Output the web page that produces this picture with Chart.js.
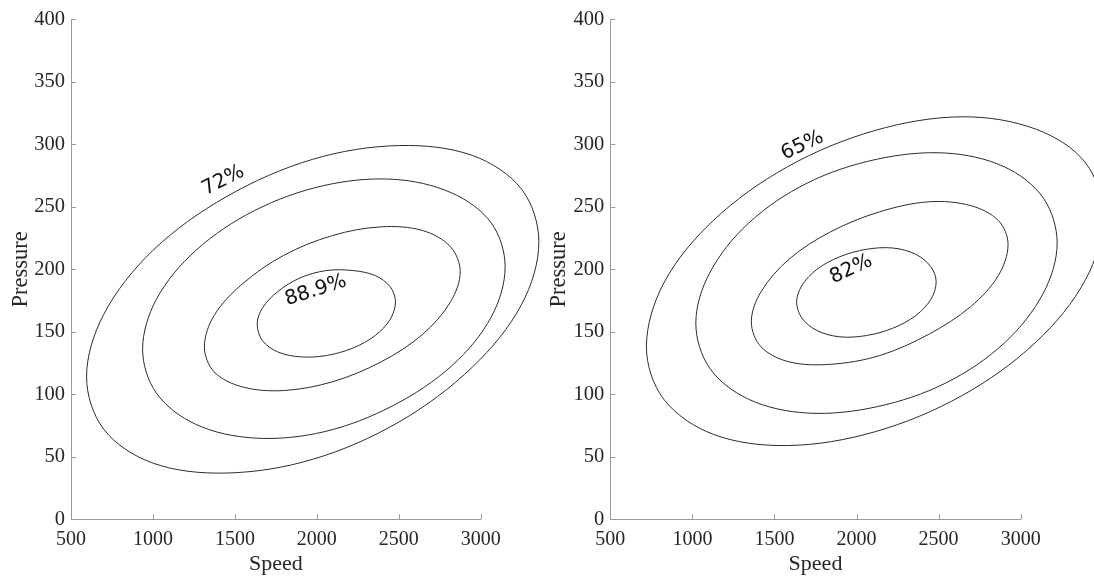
<!DOCTYPE html>
<html><head><meta charset="utf-8">
<script src="https://cdn.jsdelivr.net/npm/chart.js@4.4.1/dist/chart.umd.min.js"></script>
<style>
html,body{margin:0;padding:0;background:#fff;width:1094px;height:578px;overflow:hidden}
#c1{position:absolute;left:0;top:0;width:547px;height:578px}
#c2{position:absolute;left:539px;top:0;width:555px;height:578px}
</style></head><body>
<canvas id="c1" width="547" height="578"></canvas>
<canvas id="c2" width="555" height="578"></canvas>
<script>
// ---- Data: contour points [speed, pressure] ----
const xTicks = [500, 1000, 1500, 2000, 2500, 3000];
const yTicks = [0, 50, 100, 150, 200, 250, 300, 350, 400];

// Left chart contours (outer 72% ... inner 88.9%)
const left72 = [[3355,222],[3250,264],[2951,291],[2503,299],[1975,288],[1447,258],[999,215],[700,164],[595,114],[700,72],[999,45],[1447,37],[1975,48],[2503,78],[2951,122],[3250,172]];
const leftC2 = [[3149,202],[3065,237],[2825,261],[2466,272],[2043,267],[1620,247],[1261,215],[1021,176],[937,136],[1021,101],[1261,76],[1620,65],[2043,70],[2466,91],[2825,123],[3065,162]];
const leftC3 = [[2875,198],[2816,218],[2646,231],[2393,234],[2095,227],[1796,211],[1543,188],[1373,163],[1314,138],[1373,118],[1543,106],[1796,103],[2095,110],[2393,126],[2646,148],[2816,174]];
const left889 = [[2480,174],[2448,186],[2356,195],[2220,199],[2058,199],[1896,193],[1760,182],[1668,169],[1636,156],[1668,143],[1760,134],[1896,130],[2058,131],[2220,137],[2356,147],[2448,160]];

// Right chart contours (outer 65% ... inner 82%)
const right65 = [[3502,242],[3396,285],[3095,312],[2643,322],[2111,311],[1579,282],[1127,239],[826,189],[720,138],[826,96],[1127,68],[1579,59],[2111,70],[2643,99],[3095,142],[3396,192]];
const rightC2 = [[3222,221],[3138,257],[2900,282],[2543,293],[2122,288],[1700,269],[1343,237],[1105,197],[1021,157],[1105,121],[1343,96],[1700,85],[2122,90],[2543,109],[2900,141],[3138,181]];
const rightC3 = [[2923,220],[2864,239],[2694,251],[2440,254],[2141,246],[1842,230],[1588,208],[1418,182],[1359,158],[1418,138],[1588,126],[1842,124],[2141,131],[2440,148],[2694,170],[2864,195]];
const right82 = [[2485,190],[2453,202],[2361,212],[2223,217],[2060,216],[1897,210],[1759,200],[1667,187],[1635,174],[1667,161],[1759,151],[1897,146],[2060,147],[2223,153],[2361,163],[2453,176]];

// Contour level labels: text, speed, pressure, angle (deg)
const leftLabelText = ['72%', '88.9%'];
const leftLabelSpeed = [1429, 1994];
const leftLabelPress = [271, 183];
const leftLabelAngle = [-27, -18];
const rightLabelText = ['65%', '82%'];
const rightLabelSpeed = [1670, 1967];
const rightLabelPress = [299, 200];
const rightLabelAngle = [-25, -25];

// ---- Styling / construction ----
const LINE = '#2b2b2b';
const AXIS = '#9a9a9a';
const TEXT = '#262626';
const SERIF = "'Liberation Serif', 'Times New Roman', serif";

function loopDataset(pts) {
  const n = pts.length;
  const seq = [pts[n - 1], ...pts, pts[0], pts[1]].map(p => ({x: p[0], y: p[1]}));
  const lastSeg = seq.length - 2;
  return {
    data: seq, showLine: true, borderColor: LINE, borderWidth: 1, pointRadius: 0,
    tension: 0.34, capBezierPoints: false, clip: false, fill: false,
    segment: { borderColor: ctx => (ctx.p0DataIndex === 0 || ctx.p0DataIndex === lastSeg) ? 'rgba(0,0,0,0)' : LINE }
  };
}

const inwardTicks = {
  id: 'inwardTicks',
  afterDraw(chart) {
    const {ctx, chartArea: a, scales: {x, y}} = chart;
    ctx.save();
    ctx.strokeStyle = AXIS; ctx.lineWidth = 1; ctx.beginPath();
    xTicks.forEach(v => { const px = Math.round(x.getPixelForValue(v)) + 0.5; ctx.moveTo(px, a.bottom); ctx.lineTo(px, a.bottom - 5); });
    yTicks.forEach(v => { const py = Math.round(y.getPixelForValue(v)) + 0.5; ctx.moveTo(a.left, py); ctx.lineTo(a.left + 5, py); });
    ctx.stroke(); ctx.restore();
  }
};

const contourLabels = {
  id: 'contourLabels',
  afterDatasetsDraw(chart, args, opts) {
    const {ctx, scales: {x, y}} = chart;
    ctx.save();
    ctx.font = "20px 'DejaVu Sans', sans-serif";
    ctx.fillStyle = '#111';
    ctx.textAlign = 'center'; ctx.textBaseline = 'middle';
    opts.text.forEach((t, i) => {
      ctx.save();
      ctx.translate(x.getPixelForValue(opts.sx[i]), y.getPixelForValue(opts.py[i]));
      ctx.rotate(opts.ang[i] * Math.PI / 180);
      ctx.fillText(t, 0, 0);
      ctx.restore();
    });
    ctx.restore();
  }
};

function makeChart(id, contours, lab, yWidth, padRight, titlePad) {
  return new Chart(document.getElementById(id), {
    type: 'scatter',
    data: { datasets: contours.map(loopDataset) },
    options: {
      responsive: false, animation: false, events: [],
      layout: { padding: { top: 19.3, right: padRight, bottom: 0, left: 0 } },
      plugins: { legend: {display: false}, tooltip: {enabled: false}, contourLabels: lab },
      scales: {
        x: {
          type: 'linear', min: 500, max: 3000,
          afterBuildTicks: s => { s.ticks = xTicks.map(v => ({value: v})); },
          ticks: { font: {family: SERIF, size: 20}, color: TEXT, padding: 8, maxRotation: 0, autoSkip: false, callback: v => String(v) },
          grid: { display: false, drawTicks: false },
          border: { display: true, color: AXIS, width: 1 },
          title: { display: true, text: 'Speed', font: {family: SERIF, size: 22}, color: TEXT, padding: {top: 0, bottom: 1} },
          afterFit: s => { s.height = 58.7; }
        },
        y: {
          type: 'linear', min: 0, max: 400,
          afterBuildTicks: s => { s.ticks = yTicks.map(v => ({value: v})); },
          ticks: { font: {family: SERIF, size: 20.5}, color: TEXT, padding: 6, callback: v => String(v) },
          grid: { display: false, drawTicks: false },
          border: { display: true, color: AXIS, width: 1 },
          title: { display: true, text: 'Pressure', font: {family: SERIF, size: 22.5}, color: TEXT, padding: {top: titlePad, bottom: 0} },
          afterFit: s => { s.width = yWidth; }
        }
      }
    },
    plugins: [inwardTicks, contourLabels]
  });
}

makeChart('c1', [left72, leftC2, leftC3, left889],
  {text: leftLabelText, sx: leftLabelSpeed, py: leftLabelPress, ang: leftLabelAngle}, 71, 66.3, 7.8);
makeChart('c2', [right65, rightC2, rightC3, right82],
  {text: rightLabelText, sx: rightLabelSpeed, py: rightLabelPress, ang: rightLabelAngle}, 71.3, 73.3, 6.8);
</script>
</body></html>
